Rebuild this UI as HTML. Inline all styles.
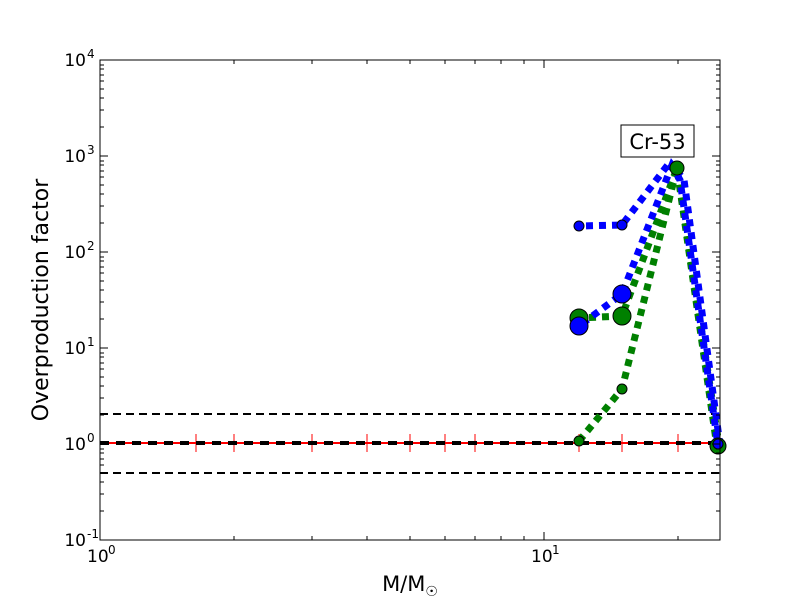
<!DOCTYPE html>
<html><head><style>body{margin:0;background:#fff}svg{display:block}</style></head><body>
<svg width="800" height="600" xmlns="http://www.w3.org/2000/svg" font-family="DejaVu Sans, Liberation Sans, sans-serif">
<rect width="800" height="600" fill="#fff"/>
<line x1="100" y1="414" x2="720" y2="414" stroke="#000" stroke-width="2" stroke-dasharray="8,5"/>
<line x1="100" y1="473" x2="720" y2="473" stroke="#000" stroke-width="2" stroke-dasharray="8,5"/>
<line x1="100" y1="443" x2="720" y2="443" stroke="#f00" stroke-width="2"/>
<g stroke="#f00" stroke-width="1">
<line x1="196" y1="434" x2="196" y2="452"/><line x1="234" y1="434" x2="234" y2="452"/><line x1="312" y1="434" x2="312" y2="452"/><line x1="367" y1="434" x2="367" y2="452"/><line x1="410" y1="434" x2="410" y2="452"/><line x1="445" y1="434" x2="445" y2="452"/><line x1="475" y1="434" x2="475" y2="452"/><line x1="579" y1="434" x2="579" y2="452"/><line x1="622" y1="434" x2="622" y2="452"/><line x1="678" y1="434" x2="678" y2="452"/>
</g>
<line x1="100" y1="443" x2="720" y2="443" stroke="#000" stroke-width="4" stroke-dasharray="9,7"/>
<g fill="none" stroke-width="7" stroke-dasharray="7,6">
<polyline points="579,441 622,389 677,168 719,445" stroke="#008000"/>
<polyline points="579,318 622,316 677,168 717,447" stroke="#008000" stroke-dashoffset="3"/>
<polyline points="579,226 622,225 670,162 680,180 718,445" stroke="#0000ff" stroke-dashoffset="6"/>
<polyline points="579,326 622,294 672,165 684,180 720,445" stroke="#0000ff" stroke-dashoffset="9"/>
</g>
<g stroke="#000" stroke-width="1">
<circle cx="579" cy="441" r="5" fill="#008000"/>
<circle cx="622" cy="389" r="5" fill="#008000"/>
<circle cx="579" cy="318" r="9" fill="#008000"/>
<circle cx="622" cy="316" r="9" fill="#008000"/>
<circle cx="579" cy="226" r="5" fill="#0000ff"/>
<circle cx="622" cy="225" r="5" fill="#0000ff"/>
<circle cx="579" cy="326" r="9" fill="#0000ff"/>
<circle cx="622" cy="294" r="9" fill="#0000ff"/>
<circle cx="677" cy="168" r="7" fill="#008000"/>
<circle cx="718" cy="446" r="8" fill="#008000"/>
<circle cx="718" cy="444" r="5" fill="#0000ff"/>
</g>
<rect x="100" y="60" width="620" height="480" fill="none" stroke="#000" stroke-width="1"/>
<rect x="621" y="125" width="73" height="32" fill="#fff" stroke="#000"/>
<text x="657.5" y="149" font-size="21" text-anchor="middle">Cr-53</text>
<g font-size="17">
<text x="86" y="66" text-anchor="end">10</text><text x="87" y="58" font-size="12">4</text>
<text x="86" y="162" text-anchor="end">10</text><text x="87" y="154" font-size="12">3</text>
<text x="86" y="258" text-anchor="end">10</text><text x="87" y="250" font-size="12">2</text>
<text x="86" y="354" text-anchor="end">10</text><text x="87" y="346" font-size="12">1</text>
<text x="86" y="450" text-anchor="end">10</text><text x="87" y="442" font-size="12">0</text>
<text x="86" y="546" text-anchor="end">10</text><text x="87" y="538" font-size="12">-1</text>
</g>
<g font-size="17">
<text x="87" y="562">10</text><text x="108" y="554" font-size="12">0</text>
<text x="531" y="562">10</text><text x="552" y="554" font-size="12">1</text>
</g>
<text x="410" y="591" font-size="21" text-anchor="middle">M/M<tspan font-size="14" dy="5">☉</tspan></text>
<text transform="translate(48,300) rotate(-90)" font-size="22" text-anchor="middle">Overproduction factor</text>
<g stroke="#000" stroke-width="1">
<path d="M100,60h8M720,60h-8M100,156h8M720,156h-8M100,252h8M720,252h-8M100,348h8M720,348h-8M100,444h8M720,444h-8M100,540h8M720,540h-8M100,540v-8M100,60v8M544,540v-8M544,60v8"/>
<path d="M100,511h4M100,494h4M100,482h4M100,473h4M100,465h4M100,459h4M100,453h4M100,449h4M100,415h4M100,398h4M100,386h4M100,377h4M100,369h4M100,363h4M100,357h4M100,353h4M100,319h4M100,302h4M100,290h4M100,281h4M100,273h4M100,267h4M100,261h4M100,257h4M100,223h4M100,206h4M100,194h4M100,185h4M100,177h4M100,171h4M100,165h4M100,161h4M100,127h4M100,110h4M100,98h4M100,89h4M100,81h4M100,75h4M100,69h4M100,65h4"/>
<path d="M720,511h-4M720,494h-4M720,482h-4M720,473h-4M720,465h-4M720,459h-4M720,453h-4M720,449h-4M720,415h-4M720,398h-4M720,386h-4M720,377h-4M720,369h-4M720,363h-4M720,357h-4M720,353h-4M720,319h-4M720,302h-4M720,290h-4M720,281h-4M720,273h-4M720,267h-4M720,261h-4M720,257h-4M720,223h-4M720,206h-4M720,194h-4M720,185h-4M720,177h-4M720,171h-4M720,165h-4M720,161h-4M720,127h-4M720,110h-4M720,98h-4M720,89h-4M720,81h-4M720,75h-4M720,69h-4M720,65h-4"/>
<path d="M234,540v-4M312,540v-4M367,540v-4M410,540v-4M445,540v-4M475,540v-4M501,540v-4M524,540v-4M678,540v-4M234,60v4M312,60v4M367,60v4M410,60v4M445,60v4M475,60v4M501,60v4M524,60v4M678,60v4"/>
</g>
</svg>
</body></html>
